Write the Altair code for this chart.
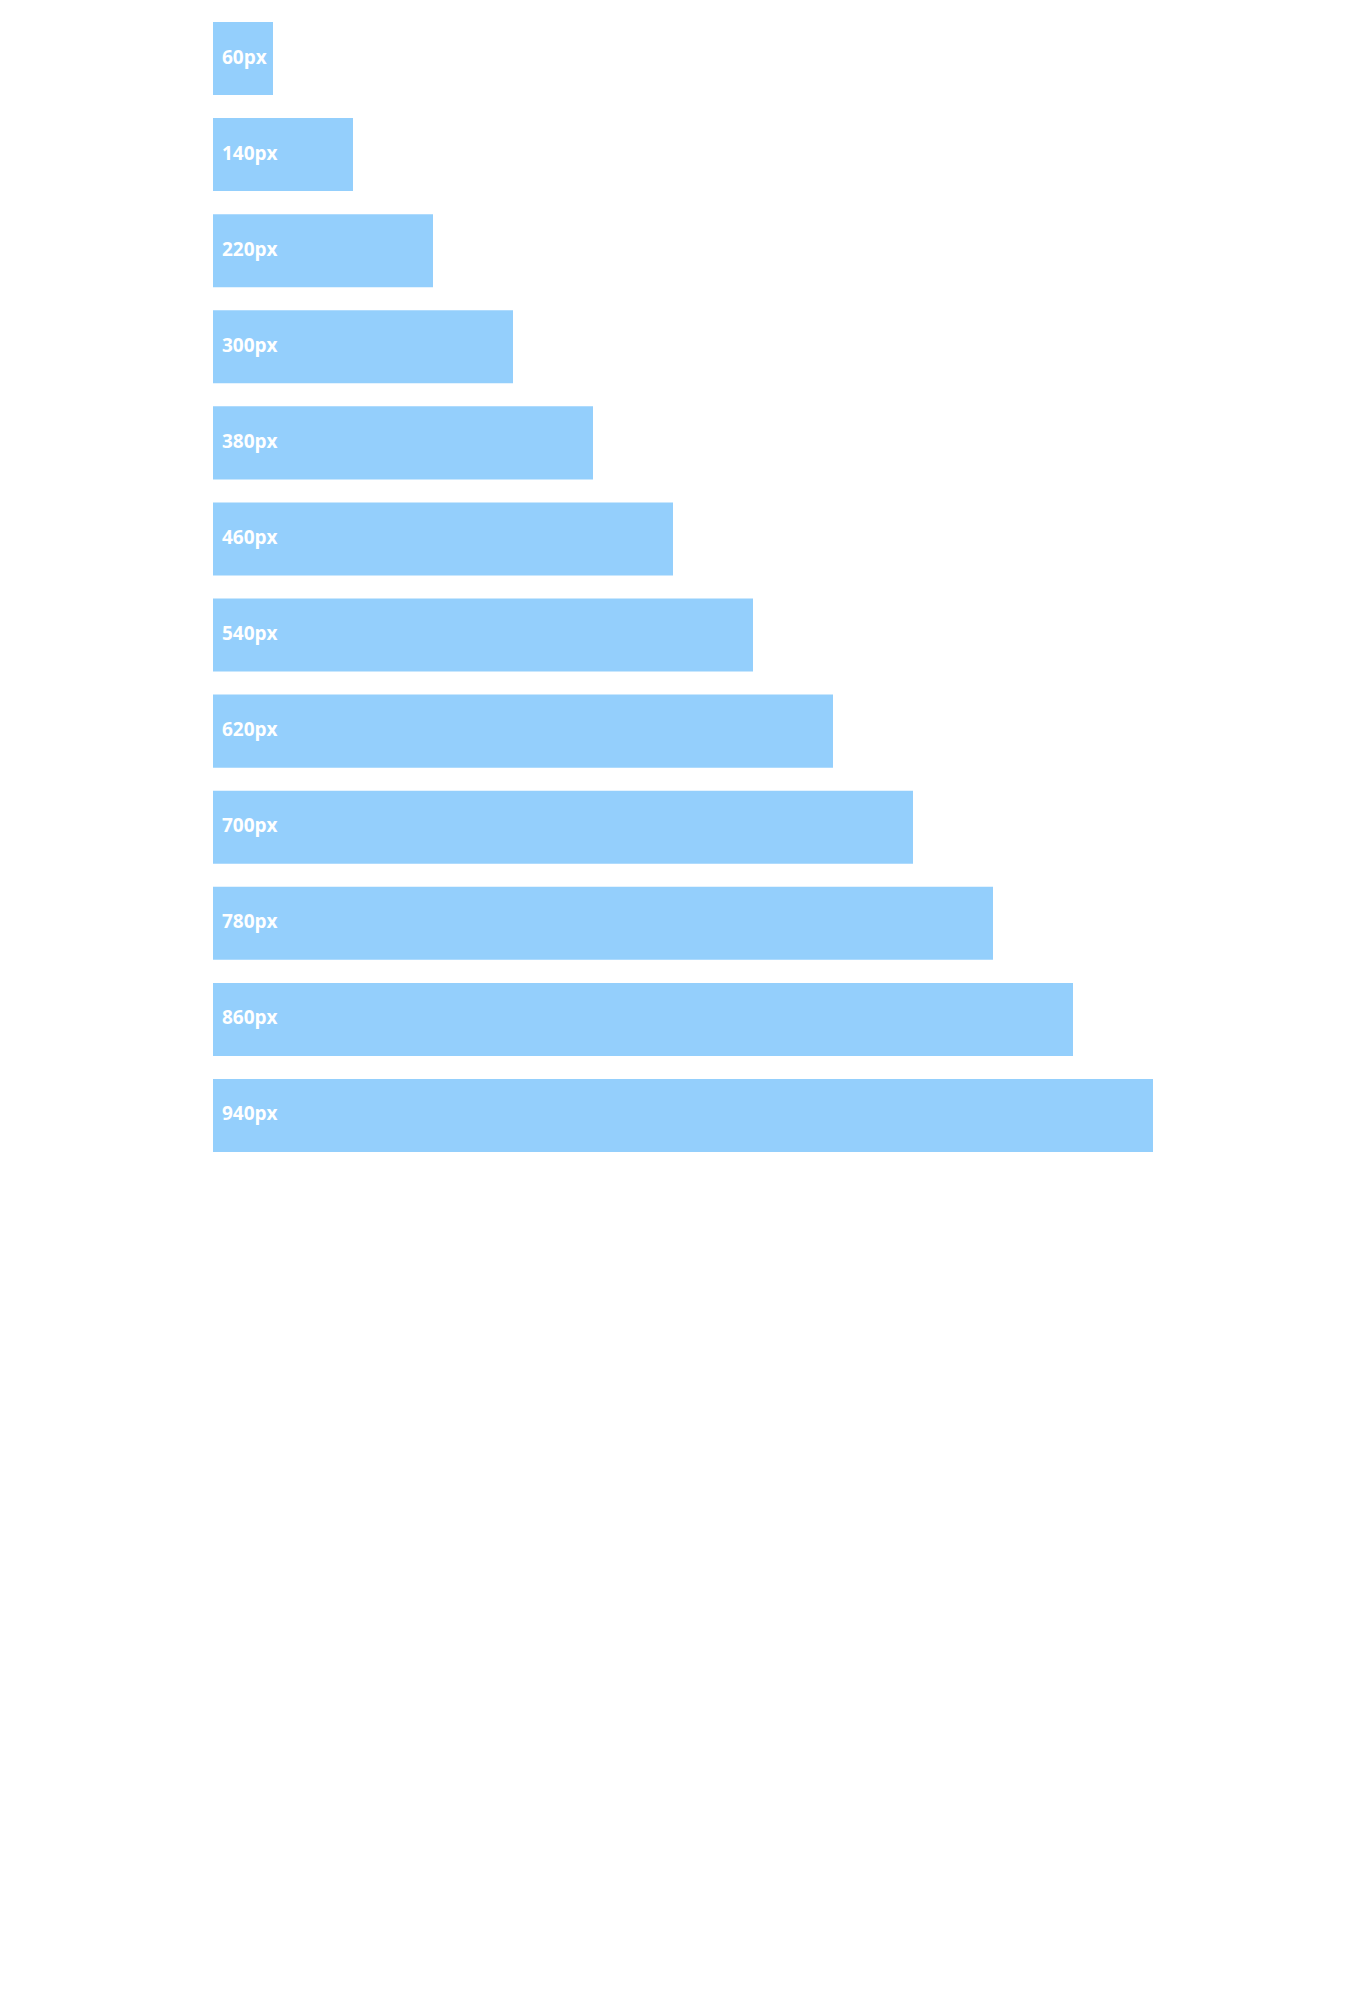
import altair as alt
import pandas as pd

values = [60, 140, 220, 300, 380, 460, 540, 620, 700, 780, 860, 940]
labels = ["60px", "140px", "220px", "300px", "380px", "460px",
          "540px", "620px", "700px", "780px", "860px", "940px"]

df = pd.DataFrame({"value": values, "label": labels, "order": list(range(len(values)))})

y = alt.Y("label:N", sort=alt.SortField("order"), axis=None,
          scale=alt.Scale(paddingInner=0.24, paddingOuter=0))
x = alt.X("value:Q", axis=None, scale=alt.Scale(domain=[0, 940], nice=False, zero=True))

bars = alt.Chart(df).mark_bar(color="#94cffc", opacity=1).encode(x=x, y=y)

text = alt.Chart(df).mark_text(
    align="left", baseline="middle", dx=9, dy=-1,
    font="Open Sans", fontWeight="bold", fontSize=19, color="white"
).encode(x=alt.value(0), y=y, text="label:N")

chart = (bars + text).properties(
    width=940, height=1130,
    padding={"left": 213, "top": 22, "right": 5, "bottom": 5},
).configure_view(stroke=None)

chart.save("out.html", embed_options={"renderer": "svg", "actions": False})
